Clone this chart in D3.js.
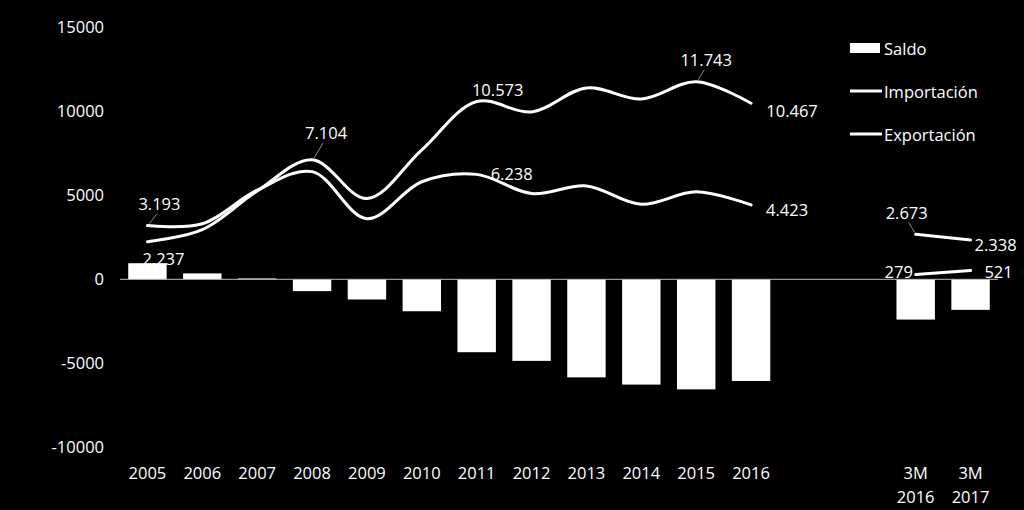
<!DOCTYPE html>
<html>
<head>
<meta charset="utf-8">
<script src="https://cdn.jsdelivr.net/npm/d3@7"></script>
<style>
  html, body { margin: 0; padding: 0; background: #000; }
  svg { display: block; }
  text { font-family: "Open Sans", sans-serif; fill: #fff; }
</style>
</head>
<body>
<svg id="chart" width="1024" height="510"></svg>
<script>
// ---- data ----
const categories = ["2005","2006","2007","2008","2009","2010","2011","2012","2013","2014","2015","2016","gap1","gap2","3M 2016","3M 2017"];
const categoryLabels = [["2005"],["2006"],["2007"],["2008"],["2009"],["2010"],["2011"],["2012"],["2013"],["2014"],["2015"],["2016"],[""],[""],["3M","2016"],["3M","2017"]];
const saldo       = [956, 350, 50, -704, -1200, -1900, -4335, -4850, -5830, -6260, -6543, -6044, null, null, -2394, -1817];
const exportacion = [3193, 3300, 5300, 6400, 3600, 5800, 6238, 5100, 5550, 4460, 5200, 4423, null, null, 279, 521];
const importacion = [2237, 2950, 5250, 7104, 4800, 7700, 10573, 9950, 11380, 10720, 11743, 10467, null, null, 2673, 2338];
const yTicks = [-10000, -5000, 0, 5000, 10000, 15000];
const seriesNames = ["Saldo", "Importación", "Exportación"];
// data labels: [series, category index, text]
const pointLabels = [
  ["exp", 0, "3.193"], ["imp", 0, "2.237"], ["imp", 3, "7.104"],
  ["imp", 6, "10.573"], ["exp", 6, "6.238"], ["imp", 10, "11.743"],
  ["imp", 11, "10.467"], ["exp", 11, "4.423"],
  ["imp", 14, "2.673"], ["imp", 15, "2.338"], ["exp", 14, "279"], ["exp", 15, "521"]
];

// ---- layout ----
const FS = 16.5;
const svg = d3.select("#chart");
svg.append("rect").attr("width", 1024).attr("height", 510).attr("fill", "#000");

const x = d3.scaleBand().domain(categories).range([120, 998]).paddingInner(0.3).paddingOuter(0.15);
const y = d3.scaleLinear().domain([-10000, 15000]).range([447.5, 27]);
const cx = i => x(categories[i]) + x.bandwidth() / 2;

// y axis labels
const yAxis = d3.axisLeft(y).tickValues(yTicks).tickSize(0).tickPadding(0).tickFormat(d => String(d));
const gy = svg.append("g").attr("transform", "translate(104,0)").call(yAxis);
gy.select(".domain").remove();
gy.selectAll("text").attr("font-size", FS).attr("fill", "#fff").style("font-family", "Open Sans");

// bars
svg.append("g").selectAll("rect")
  .data(saldo.map((v, i) => ({v, i})).filter(d => d.v !== null))
  .join("rect")
  .attr("x", d => x(categories[d.i]))
  .attr("width", x.bandwidth())
  .attr("y", d => y(Math.max(0, d.v)))
  .attr("height", d => Math.abs(y(d.v) - y(0)))
  .attr("fill", "#fff");

// zero axis line
svg.append("line").attr("x1", 120).attr("x2", 998).attr("y1", y(0)).attr("y2", y(0))
  .attr("stroke", "#bfbfbf").attr("stroke-width", 1);

// x axis labels
const xAxis = d3.axisBottom(x).tickSize(0).tickFormat(() => "");
const gx = svg.append("g").attr("transform", "translate(0,460)").call(xAxis);
gx.select(".domain").remove();
gx.selectAll(".tick").each(function(d, i) {
  const lines = categoryLabels[i];
  const t = d3.select(this).select("text").attr("font-size", FS).attr("fill", "#fff")
    .style("font-family", "Open Sans").attr("y", 0).attr("dy", null).text(null);
  lines.forEach((ln, k) => {
    t.append("tspan").attr("x", 0).attr("y", 19 + k * 23.5).text(ln);
  });
});

// lines
const line = d3.line()
  .defined(d => d.v !== null)
  .x(d => cx(d.i))
  .y(d => y(d.v))
  .curve(d3.curveCatmullRom.alpha(0.5));
[exportacion, importacion].forEach(arr => {
  svg.append("path")
    .datum(arr.map((v, i) => ({v, i})))
    .attr("d", line)
    .attr("fill", "none")
    .attr("stroke", "#fff")
    .attr("stroke-width", 3)
    .attr("stroke-linecap", "round");
});

// data labels with positions relative to point (dx, dy) and optional leader lines
const labelPos = {
  "3.193": [12, -22, true], "2.237": [16, 17, false], "7.104": [14, -27, true],
  "10.573": [21, -12, false], "6.238": [35, -1, false], "11.743": [10, -22, true],
  "10.467": [41, 7, false], "4.423": [36, 5, false],
  "2.673": [-9, -22, true], "2.338": [25, 5, false], "279": [-17, -3, false], "521": [28, 1, false]
};
const lblG = svg.append("g");
pointLabels.forEach(([s, i, txt]) => {
  const arr = s === "exp" ? exportacion : importacion;
  const px = cx(i), py = y(arr[i]);
  const [dx, dy, leader] = labelPos[txt];
  lblG.append("text").attr("x", px + dx).attr("y", py + dy)
    .attr("text-anchor", "middle").attr("dominant-baseline", "central")
    .attr("font-size", FS).text(txt);
  if (leader) {
    const lx = dx > 0 ? px + 2 : px - 1;
    lblG.append("line")
      .attr("x1", lx).attr("y1", py - 2)
      .attr("x2", px + dx * 0.8).attr("y2", py + dy + 10)
      .attr("stroke", "#8c8c8c").attr("stroke-width", 1);
  }
});

// legend
const lg = svg.append("g");
seriesNames.forEach((name, k) => {
  const yy = 48 + k * 43;
  if (k === 0) {
    lg.append("rect").attr("x", 850).attr("y", yy - 5).attr("width", 30).attr("height", 10).attr("fill", "#fff");
  } else {
    lg.append("line").attr("x1", 850).attr("x2", 882).attr("y1", yy).attr("y2", yy)
      .attr("stroke", "#fff").attr("stroke-width", 3);
  }
  lg.append("text").attr("x", 884).attr("y", yy).attr("dominant-baseline", "central")
    .attr("font-size", FS).text(name);
});
</script>
</body>
</html>
